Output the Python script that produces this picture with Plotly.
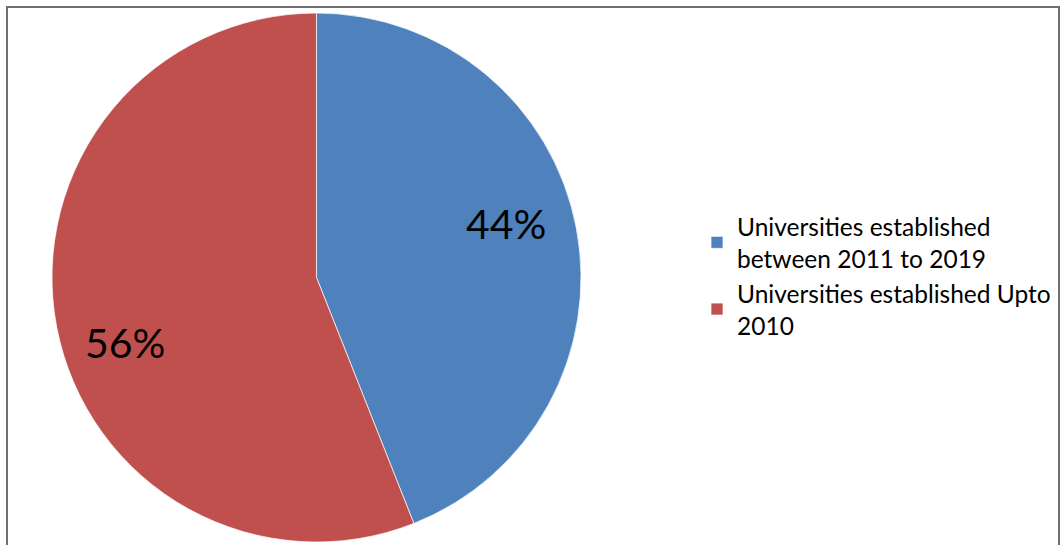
import plotly.graph_objects as go

labels = ["Universities established<br>between 2011 to 2019", "Universities established Upto<br>2010"]
values = [44, 56]
colors = ["#4F81BD", "#C0504D"]
pct_labels = [f"{round(100 * v / sum(values))}%" for v in values]

W, H = 1064, 545
cx, cy, r = 316.5, 277.5, 264.5
FONT = "Lato, Carlito, sans-serif"

fig = go.Figure(go.Pie(
    labels=labels,
    values=values,
    sort=False,
    direction="clockwise",
    rotation=0,
    marker=dict(colors=colors, line=dict(color="white", width=0.7)),
    textinfo="none",
    domain=dict(x=[(cx - r) / W, (cx + r) / W], y=[(H - cy - r) / H, (H - cy + r) / H]),
    hoverinfo="label+percent",
))

# data label placement (pixel centres as in the reference)
label_pos = [(506, 221.5), (124.5, 340.5)]
annotations = [
    dict(text=t, x=px / W, y=1 - (py + 2) / H, xref="paper", yref="paper",
         xanchor="center", yanchor="middle", showarrow=False,
         font=dict(family=FONT, size=41, color="black"))
    for t, (px, py) in zip(pct_labels, label_pos)
]

fig.update_layout(
    width=W, height=H,
    margin=dict(l=0, r=0, t=0, b=0),
    paper_bgcolor="white",
    font=dict(family=FONT, size=24.5, color="black"),
    legend=dict(x=697 / W, xanchor="left", y=1 - 204 / H, yanchor="top",
                font=dict(size=24.5), itemwidth=30, bgcolor="rgba(0,0,0,0)"),
    annotations=annotations,
    shapes=[dict(type="rect", xref="paper", yref="paper",
                 x0=7 / W, x1=1059 / W, y0=-0.05, y1=1 - 7 / H,
                 line=dict(color="#6f6f6f", width=2), fillcolor="rgba(0,0,0,0)")],
)

fig.write_html("out.html", config={"displayModeBar": False},
               post_script="document.body.style.margin='0';document.body.style.padding='0';")
